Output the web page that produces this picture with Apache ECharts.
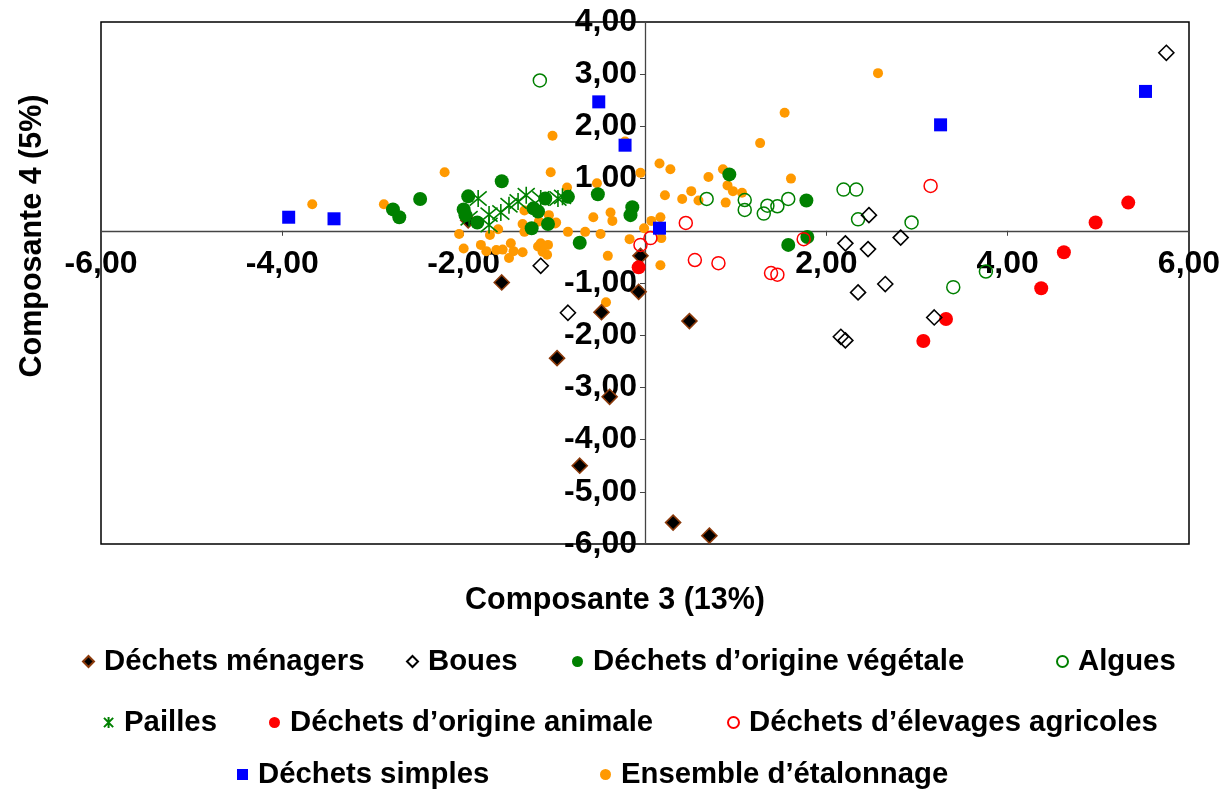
<!DOCTYPE html>
<html>
<head>
<meta charset="utf-8">
<script src="https://cdn.jsdelivr.net/npm/echarts@6/dist/echarts.min.js"></script>
<style>html,body{margin:0;padding:0;background:#fff;}#chart{width:1230px;height:793px;}</style>
</head>
<body>
<div id="chart"></div>
<script>
const seriesNames = ["Déchets ménagers","Boues","Déchets d’origine végétale","Algues","Pailles","Déchets d’origine animale","Déchets d’élevages agricoles","Déchets simples","Ensemble d’étalonnage"];
const xTicks = [-6,-4,-2,0,2,4,6];
const yTicks = [-6,-5,-4,-3,-2,-1,0,1,2,3,4];

const menagers = [[-1.95,0.20],[-0.05,-0.48],[-1.58,-0.99],[-0.07,-1.17],[-0.48,-1.56],[0.49,-1.73],[-0.97,-2.44],[-0.39,-3.18],[-0.72,-4.50],[0.31,-5.59],[0.71,-5.84]];
const boues = [[-1.15,-0.67],[-0.85,-1.57],[2.47,0.30],[2.21,-0.24],[2.46,-0.35],[2.82,-0.13],[2.65,-1.02],[2.35,-1.18],[2.16,-2.03],[2.21,-2.10],[3.19,-1.66],[5.75,3.41]];
const vegetale = [[-2.78,0.41],[-2.71,0.26],[-2.48,0.61],[-1.95,0.66],[-2.00,0.41],[-1.98,0.30],[-1.85,0.16],[-1.58,0.95],[-1.25,0.05],[-1.23,0.43],[-1.18,0.37],[-1.10,0.62],[-1.07,0.13],[-0.85,0.65],[-0.72,-0.23],[-0.52,0.70],[-0.14,0.45],[-0.16,0.30],[0.93,1.08],[1.78,0.58],[1.58,-0.27],[1.79,-0.12]];
const algues = [[-1.16,2.88],[0.68,0.61],[1.10,0.59],[1.10,0.40],[1.35,0.48],[1.31,0.33],[1.46,0.47],[1.58,0.61],[2.19,0.79],[2.33,0.79],[2.35,0.22],[2.94,0.16],[3.40,-1.08],[3.76,-0.78]];
const pailles = [[-1.84,0.62],[-1.94,0.24],[-1.72,0.31],[-1.72,0.11],[-1.59,0.35],[-1.50,0.49],[-1.40,0.56],[-1.31,0.68],[-1.15,0.62],[-0.96,0.62],[-0.91,0.65]];
const animale = [[-0.07,-0.70],[3.32,-1.69],[3.07,-2.11],[4.37,-1.10],[5.33,0.54],[4.97,0.16],[4.62,-0.41]];
const elevages = [[-0.05,-0.27],[0.06,-0.14],[0.45,0.15],[0.55,-0.56],[0.81,-0.62],[1.39,-0.81],[1.46,-0.84],[1.75,-0.16],[3.15,0.86]];
const simples = [[-3.93,0.26],[-3.43,0.23],[-0.51,2.47],[-0.22,1.64],[0.16,0.05],[3.26,2.03],[5.52,2.67]];
const etalonnage = [[-3.67,0.51],[-2.88,0.51],[-2.21,1.12],[-2.05,-0.06],[-2.00,-0.34],[-1.81,-0.27],[-1.75,-0.39],[-1.71,-0.08],[-1.62,0.03],[-1.64,-0.37],[-1.57,-0.36],[-1.50,-0.52],[-1.48,-0.24],[-1.45,-0.39],[-1.35,-0.41],[-1.33,0.39],[-1.35,0.13],[-1.33,-0.02],[-1.18,-0.30],[-1.15,-0.24],[-1.13,-0.40],[-1.08,-0.46],[-1.17,0.18],[-1.06,0.30],[-0.98,0.16],[-1.04,1.12],[-1.02,1.82],[-0.86,0.83],[-0.85,-0.02],[-0.66,-0.02],[-0.57,0.26],[-0.53,0.91],[-0.49,-0.06],[-0.38,0.35],[-0.36,0.19],[-0.41,-0.48],[-0.17,-0.16],[-0.05,1.11],[-0.01,0.05],[0.07,0.19],[0.17,0.26],[0.16,1.29],[0.28,1.18],[0.22,0.68],[0.17,-0.66],[-0.22,1.71],[-0.43,-1.37],[0.18,-0.14],[1.27,1.68],[0.70,1.03],[0.86,1.18],[0.91,0.87],[0.97,0.76],[1.07,0.73],[1.61,1.00],[0.51,0.76],[0.41,0.61],[0.59,0.58],[0.89,0.54],[2.57,3.02],[1.54,2.26],[-0.99,0.14],[-1.07,-0.27]];

const FONT = 'Liberation Sans';
const fmt = v => v === 0 ? '' : v.toFixed(2).replace('.', ',');
const star = 'path://M0,0L10,10M10,0L0,10M5,-1L5,11';

const W = 1230, H = 793;
const G = {left: 101, top: 22, right: 41, bottom: 249};
const gw = W - G.left - G.right, gh = H - G.top - G.bottom;
const xMin = xTicks[0], xMax = xTicks[xTicks.length-1];
const yMin = yTicks[0], yMax = yTicks[yTicks.length-1];
// move the axes onto the zero lines
const xAxisOffset = -(gh * (0 - yMin) / (yMax - yMin));
const yAxisOffset = -(gw * (0 - xMin) / (xMax - xMin));

const chart = echarts.init(document.getElementById('chart'), null, {renderer: 'canvas'});

function legendAt(name, left, top) {
  return {
    data: [name], left: left, top: top, padding: 0, itemWidth: 11, itemHeight: 11, itemGap: 0,
    textStyle: {fontFamily: FONT, fontWeight: 'bold', fontSize: 29.3, color: '#000', padding: [0,0,0,5]},
    selectedMode: false
  };
}

function axisCommon(margin) {
  return {
    axisLine: {onZero: false, lineStyle: {color: '#444', width: 1.3}},
    axisTick: {show: true, length: 5, lineStyle: {color: '#444'}},
    axisLabel: {formatter: fmt, fontFamily: FONT, fontWeight: 'bold', fontSize: 32, color: '#000', margin: margin},
    splitLine: {show: false}
  };
}

const option = {
  animation: false,
  backgroundColor: '#fff',
  textStyle: {fontFamily: FONT},
  grid: {left: G.left, top: G.top, right: G.right, bottom: G.bottom, show: true, borderColor: '#000', borderWidth: 1.5, backgroundColor: 'transparent'},
  xAxis: Object.assign({type: 'value', min: xMin, max: xMax, interval: 2, position: 'bottom', offset: xAxisOffset}, axisCommon(17)),
  yAxis: Object.assign({type: 'value', min: yMin, max: yMax, interval: 1, position: 'left', offset: yAxisOffset}, axisCommon(8)),
  legend: [
    legendAt(seriesNames[0], 82, 647),
    legendAt(seriesNames[1], 406, 647),
    legendAt(seriesNames[2], 572, 647),
    legendAt(seriesNames[3], 1056, 647),
    legendAt(seriesNames[4], 103, 708),
    legendAt(seriesNames[5], 269, 708),
    legendAt(seriesNames[6], 727, 708),
    legendAt(seriesNames[7], 237, 760),
    legendAt(seriesNames[8], 600, 760)
  ],
  graphic: [
    {type: 'text', left: 'center', top: 585, style: {text: 'Composante 3 (13%)', fontFamily: FONT, fontWeight: 'bold', fontSize: 30.5, fill: '#000'}},
    {type: 'text', x: 33, y: 236, rotation: Math.PI/2, style: {text: 'Composante 4 (5%)', fontFamily: FONT, fontWeight: 'bold', fontSize: 30.5, fill: '#000', align: 'center', verticalAlign: 'middle'}}
  ],
  series: [
    {name: seriesNames[8], type: 'scatter', data: etalonnage, symbol: 'circle', symbolSize: 10, itemStyle: {color: '#FF9900', opacity: 1}},
    {name: seriesNames[0], type: 'scatter', data: menagers, symbol: 'diamond', symbolSize: 15, itemStyle: {color: '#000', borderColor: '#8B3A0B', borderWidth: 1.6, opacity: 1}},
    {name: seriesNames[2], type: 'scatter', data: vegetale, symbol: 'circle', symbolSize: 14, itemStyle: {color: '#008000', opacity: 1}},
    {name: seriesNames[3], type: 'scatter', data: algues, symbol: 'circle', symbolSize: 13, itemStyle: {color: 'rgba(255,255,255,0)', borderColor: '#008000', borderWidth: 1.5, opacity: 1}},
    {name: seriesNames[4], type: 'scatter', data: pailles, symbol: star, symbolSize: 17, itemStyle: {color: 'rgba(0,0,0,0)', borderColor: '#008000', borderWidth: 1.6, opacity: 1}},
    {name: seriesNames[5], type: 'scatter', data: animale, symbol: 'circle', symbolSize: 14, itemStyle: {color: '#FF0000', opacity: 1}},
    {name: seriesNames[6], type: 'scatter', data: elevages, symbol: 'circle', symbolSize: 13, itemStyle: {color: 'rgba(255,255,255,0)', borderColor: '#FF0000', borderWidth: 1.5, opacity: 1}},
    {name: seriesNames[1], type: 'scatter', data: boues, symbol: 'diamond', symbolSize: 15, itemStyle: {color: 'rgba(255,255,255,0)', borderColor: '#000', borderWidth: 1.6, opacity: 1}},
    {name: seriesNames[7], type: 'scatter', data: simples, symbol: 'rect', symbolSize: 13, itemStyle: {color: '#0000FF', opacity: 1}}
  ]
};
chart.setOption(option);
</script>
</body>
</html>
